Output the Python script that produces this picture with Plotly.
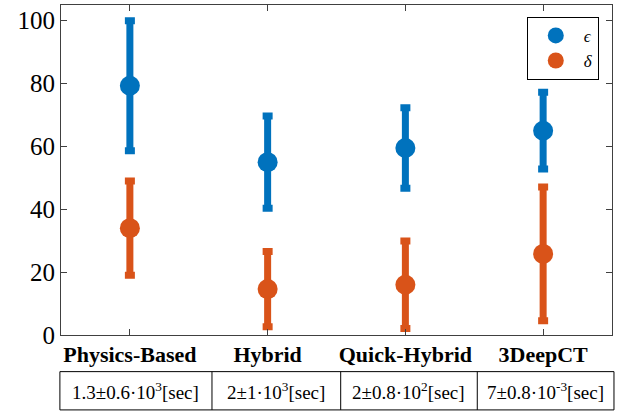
import plotly.graph_objects as go

methods = ["Physics-Based", "Hybrid", "Quick-Hybrid", "3DeepCT"]
eps_mean = [79.3, 55.0, 59.5, 65.0]
eps_err = [20.7, 14.7, 12.8, 12.2]
delta_mean = [34.0, 14.6, 16.0, 25.8]
delta_err = [15.0, 12.0, 13.9, 21.3]
runtimes = ["1.3±0.6·10<sup>3</sup>[sec]", "2±1·10<sup>3</sup>[sec]",
            "2±0.8·10<sup>2</sup>[sec]", "7±0.8·10<sup>-3</sup>[sec]"]

BLUE = "#0072BD"
ORANGE = "#D95319"
FONT = "Liberation Serif"

fig = go.Figure()
fig.add_trace(go.Scatter(
    x=methods, y=eps_mean, mode="markers", name="<i>ϵ</i>",
    marker=dict(color=BLUE, size=20, symbol="circle"),
    error_y=dict(type="data", array=eps_err, color=BLUE, thickness=7, width=5),
))
fig.add_trace(go.Scatter(
    x=methods, y=delta_mean, mode="markers", name="<i>δ</i>",
    marker=dict(color=ORANGE, size=20, symbol="circle"),
    error_y=dict(type="data", array=delta_err, color=ORANGE, thickness=7, width=5),
))

axis_col = "#404040"
fig.update_xaxes(
    type="category", range=[-0.5, 3.5], showgrid=False, zeroline=False,
    showline=True, linecolor=axis_col, linewidth=1, mirror="ticks",
    ticks="inside", ticklen=6, tickcolor=axis_col,
    tickfont=dict(family=FONT, size=22, color="black", weight="bold"),
)
fig.update_yaxes(
    range=[0, 105], tickvals=[0, 20, 40, 60, 80, 100], showgrid=False,
    zeroline=False, showline=True, linecolor=axis_col, linewidth=1,
    mirror="ticks", ticks="inside", ticklen=6, tickcolor=axis_col,
    tickfont=dict(family=FONT, size=25, color="black"),
)

# runtime table below the axis
bounds = [-0.002, 0.274, 0.5076, 0.7555, 1.0036]
y_top, y_bot = -0.111, -0.227
shapes = [dict(type="rect", xref="paper", yref="paper", x0=bounds[0], x1=bounds[-1],
               y0=y_bot, y1=y_top, line=dict(color="black", width=1))]
for b in bounds[1:-1]:
    shapes.append(dict(type="line", xref="paper", yref="paper", x0=b, x1=b,
                       y0=y_bot, y1=y_top, line=dict(color="black", width=1)))
annotations = []
for i, txt in enumerate(runtimes):
    annotations.append(dict(xref="paper", yref="paper", x=(bounds[i] + bounds[i + 1]) / 2,
                            y=(y_top + y_bot) / 2, text=txt, showarrow=False,
                            font=dict(family=FONT, size=19, color="black"),
                            xanchor="center", yanchor="middle"))

fig.update_layout(
    width=618, height=413, margin=dict(l=61, r=6, t=5, b=78),
    paper_bgcolor="white", plot_bgcolor="white",
    shapes=shapes, annotations=annotations,
    legend=dict(x=0.976, y=0.964, xanchor="right", yanchor="top",
                bordercolor="black", borderwidth=1, bgcolor="white",
                itemwidth=46, tracegroupgap=0,
                font=dict(family=FONT, size=17, color="black")),
)

fig.write_html("out.html")
